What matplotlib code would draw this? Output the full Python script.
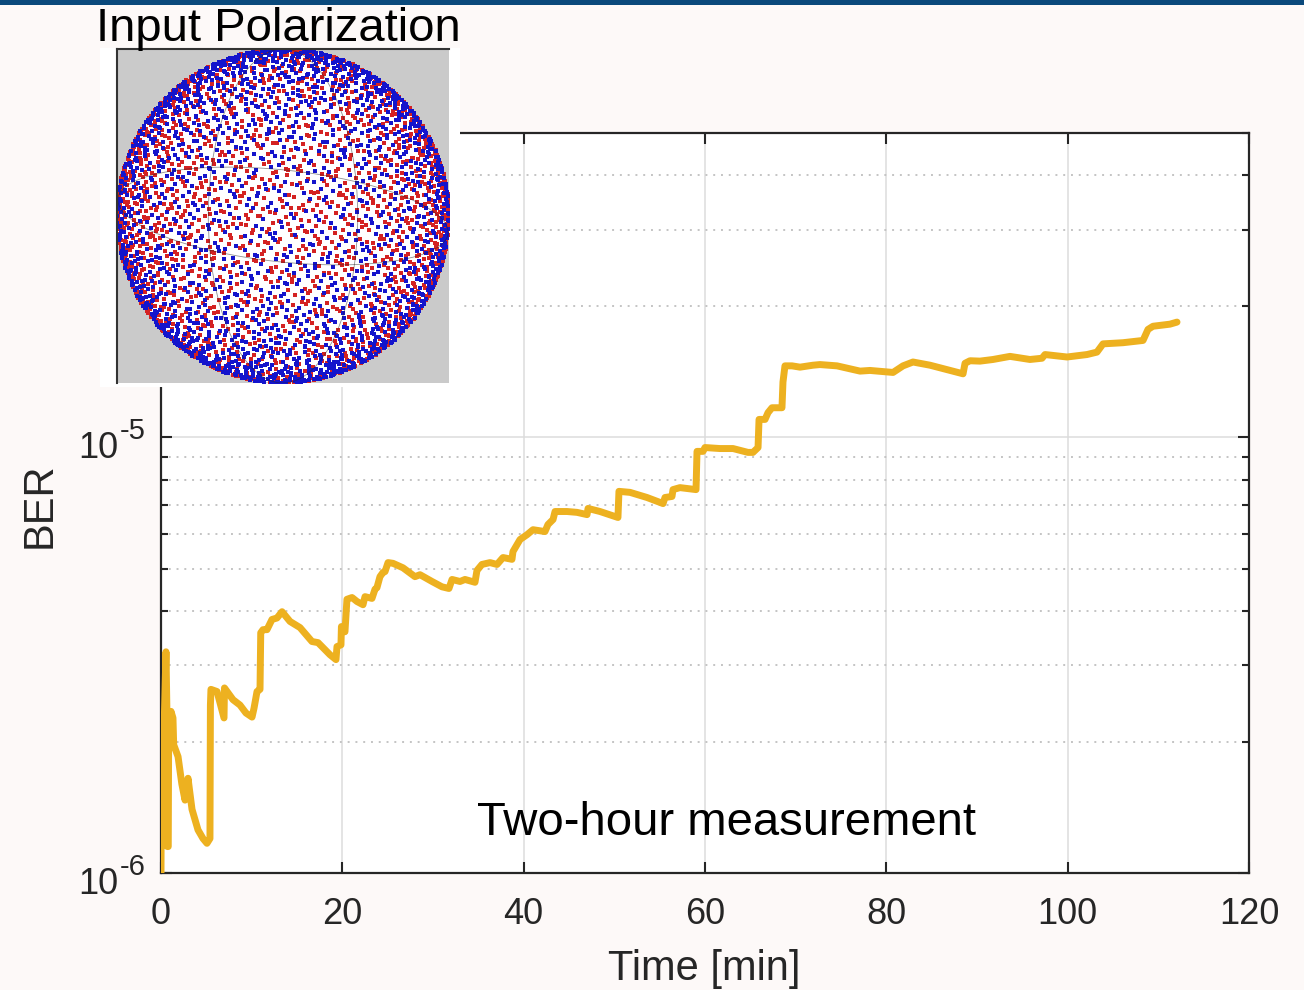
import numpy as np
import matplotlib.pyplot as plt
from matplotlib.patches import Rectangle, Ellipse
from matplotlib.transforms import offset_copy

plt.rcParams['font.family'] = ['Liberation Sans', 'DejaVu Sans']

# BER trace (time in minutes, BER in units of 1e-6)
time_min = [0.0, 0.05, 0.15, 0.35, 0.55, 0.66, 0.7, 0.8, 0.85, 1.0, 1.1, 1.32,
            1.4, 1.88, 2.3, 2.65, 2.98, 3.42, 4.08, 4.63, 5.07, 5.4, 5.45, 5.51,
            6.18, 6.95, 7.0, 7.94, 8.71, 9.37, 10.04, 10.26, 10.59, 10.92, 11.0,
            11.25, 11.69, 12.24, 12.79, 13.35, 14.23, 15.33, 16.65, 17.32, 18.64,
            19.3, 19.41, 19.85, 19.9, 20.29, 20.51, 21.07, 21.62, 22.28, 22.5,
            23.27, 23.6, 23.82, 24.15, 24.49, 24.71, 25.04, 25.59, 26.69, 28.01,
            28.57, 29.89, 30.99, 31.76, 32.1, 32.98, 33.53, 34.63, 34.85, 35.4,
            36.29, 37.06, 37.72, 38.71, 38.82, 39.6, 40.37, 41.03, 42.35, 42.68,
            43.24, 43.46, 44.78, 45.88, 46.99, 47.1, 48.42, 50.4, 50.51, 51.73,
            53.6, 55.37, 55.59, 56.36, 56.47, 57.24, 59.01, 59.12, 59.78, 60.0,
            61.65, 63.09, 64.74, 65.29, 65.85, 65.96, 66.62, 66.95, 67.39, 68.49,
            68.6, 68.82, 69.6, 70.48, 71.91, 72.68, 74.56, 77.1, 78.2, 80.74,
            81.84, 82.94, 84.82, 88.46, 88.68, 89.23, 90.33, 91.76, 93.64, 95.84,
            97.17, 97.5, 99.93, 102.13, 103.23, 103.9, 106.1, 108.31, 108.86,
            109.41, 111.28, 112.06]
ber_e6 = [1.0, 2.04, 2.27, 2.2, 3.22, 2.3, 1.15, 1.15, 2.27, 2.1, 2.35, 2.27,
          1.97, 1.85, 1.6, 1.47, 1.65, 1.4, 1.256, 1.2, 1.17, 1.2, 2.43, 2.64,
          2.61, 2.27, 2.66, 2.5, 2.43, 2.33, 2.28, 2.39, 2.61, 2.64, 3.56,
          3.62, 3.62, 3.82, 3.85, 3.98, 3.78, 3.66, 3.4, 3.38, 3.17,
          3.09, 3.31, 3.34, 3.68, 3.58, 4.25, 4.29, 4.2, 4.13, 4.31,
          4.27, 4.48, 4.52, 4.79, 4.9, 4.92, 5.16, 5.14, 5.02, 4.79,
          4.84, 4.67, 4.54, 4.5, 4.72, 4.67, 4.72, 4.65, 4.95, 5.11,
          5.16, 5.11, 5.3, 5.25, 5.47, 5.83, 5.98, 6.14, 6.08, 6.31,
          6.48, 6.76, 6.76, 6.73, 6.65, 6.87, 6.76, 6.55, 7.52, 7.48,
          7.28, 7.05, 7.28, 7.32, 7.59, 7.67, 7.59, 9.29, 9.29, 9.48,
          9.43, 9.43, 9.24, 9.24, 9.48, 11.0, 11.0, 11.4, 11.7, 11.7,
          13.4, 14.6, 14.6, 14.5, 14.65, 14.7, 14.6, 14.2, 14.25, 14.1,
          14.6, 14.9, 14.65, 14.0, 14.8, 15.0, 14.97, 15.1, 15.35, 15.1,
          15.2, 15.5, 15.3, 15.5, 15.7, 16.4, 16.5, 16.7, 17.7,
          18.0, 18.2, 18.4]

x_ticks = [0, 20, 40, 60, 80, 100, 120]
y_major = [1e-6, 1e-5]
y_exponents = ['-6', '-5']

LINE_COLOR = '#EDB120'
FIG_BG = '#fdf9f8'
TXT = '#262626'


def halton(count, base):
    """Deterministic low-discrepancy sequence in [0, 1)."""
    out = np.zeros(count)
    for i in range(count):
        f, r, j = 1.0, 0.0, i + 1
        while j > 0:
            f /= base
            r += f * (j % base)
            j //= base
        out[i] = r
    return out


fig = plt.figure(figsize=(13.04, 9.9), dpi=100)
fig.patch.set_facecolor(FIG_BG)

# thin dark blue band at the very top
fig.patches.append(Rectangle((0, 1 - 5 / 990), 1, 5 / 990, transform=fig.transFigure,
                             facecolor='#0b4a7c', edgecolor='none', zorder=10))

ax = fig.add_axes([161 / 1304, 1 - 873 / 990, 1088 / 1304, 740 / 990])
ax.set_facecolor('white')
ax.plot(time_min, np.array(ber_e6) * 1e-6, color=LINE_COLOR, lw=5,
        solid_joinstyle='round', solid_capstyle='round', zorder=3)

ax.set_yscale('log')
ax.set_xlim(0, 120)
ax.set_ylim(1e-6, 5e-5)
ax.set_xticks(x_ticks)
ax.set_yticks(y_major)
ax.set_yticklabels(['', ''])
ax.yaxis.set_minor_locator(plt.matplotlib.ticker.LogLocator(base=10, subs=np.arange(2, 10)))
ax.yaxis.set_minor_formatter(plt.NullFormatter())

ax.tick_params(axis='both', which='both', direction='in', top=True, right=True,
               colors=TXT, width=1.5)
ax.tick_params(axis='both', which='major', length=8, labelsize=26)
ax.tick_params(axis='x', which='major', pad=17)
ax.tick_params(axis='y', which='minor', length=5)
for sp in ax.spines.values():
    sp.set_color(TXT)
    sp.set_linewidth(1.6)

ax.grid(True, which='major', color='#dcdcdc', lw=1.1)
ax.grid(True, which='minor', axis='y', color='#c4c4c4', lw=1.4, linestyle=(0, (1, 3)))
ax.set_axisbelow(True)

# y tick labels written as "10" with a small raised exponent
ytrans = ax.get_yaxis_transform()
for val, ex in zip(y_major, y_exponents):
    t10 = offset_copy(ytrans, fig=fig, x=-43, y=-21, units='dots')
    tex = offset_copy(ytrans, fig=fig, x=-41, y=-2, units='dots')
    ax.text(0, val, '10', transform=t10, ha='right', va='baseline', fontsize=26,
            color=TXT, clip_on=False)
    ax.text(0, val, ex, transform=tex, ha='left', va='baseline', fontsize=21,
            color=TXT, clip_on=False)

fig.text(704 / 1304, 1 - 980 / 990, 'Time [min]', fontsize=30, color=TXT,
         ha='center', va='baseline')
fig.text(40 / 1304, 1 - 505 / 990, 'BER', fontsize=30, color=TXT, rotation=90,
         ha='center', va='center')
ax.text(62.4, 1.3e-6, 'Two-hour measurement', fontsize=34, ha='center', va='center',
        color='black')

# inset: white backing, then the sphere picture
back = fig.add_axes([100 / 1304, 1 - 387 / 990, 360 / 1304, 339 / 990])
back.set_facecolor('white')
back.set_xticks([])
back.set_yticks([])
for sp in back.spines.values():
    sp.set_visible(False)

ins = fig.add_axes([117 / 1304, 1 - 383 / 990, 332 / 1304, 334 / 990])
ins.set_facecolor('#cacaca')
ins.set_xlim(-1.0, 1.0)
ins.set_ylim(-1.0, 1.0)
ins.set_xticks([])
ins.set_yticks([])
ins.spines['right'].set_visible(False)
ins.spines['bottom'].set_visible(False)
ins.spines['left'].set_color('#333333')
ins.spines['top'].set_color('#333333')
ins.spines['left'].set_linewidth(1.5)
ins.spines['top'].set_linewidth(1.5)
ins.add_patch(Ellipse((0, 0), 2.0, 2.0, facecolor='white', edgecolor='none'))

# polarization states spread over the visible half of the sphere (Halton points)
n = 3600
zz = 1 - 2 * halton(n, 2)
phi = np.pi * halton(n, 3)
rr = np.sqrt(1 - zz ** 2)
px = rr * np.cos(phi)
tone = halton(n, 5)
blue = tone < 0.38 + 0.3 * np.abs(zz)
ins.scatter(px[~blue], zz[~blue], s=9, marker='s', color='#d42222', linewidths=0)
ins.scatter(px[blue], zz[blue], s=9, marker='s', color='#1414cc', linewidths=0)
ins.add_patch(Ellipse((0, 0), 2.0, 0.55, angle=-6, facecolor='none', edgecolor='#222222',
                      lw=0.6, alpha=0.5))
ins.add_patch(Ellipse((0, 0), 0.9, 2.0, facecolor='none', edgecolor='#222222', lw=0.6, alpha=0.5))

fig.text(278 / 1304, 1 - 29 / 990, 'Input Polarization', fontsize=34, ha='center',
         va='center', color='black')

fig.savefig('out.png', dpi=100, facecolor=FIG_BG)
